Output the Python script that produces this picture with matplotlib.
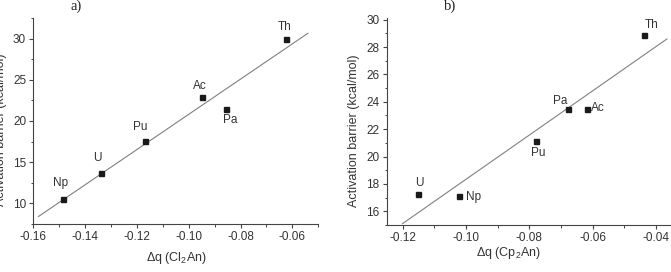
import numpy as np
import matplotlib
matplotlib.use('Agg')
import matplotlib.pyplot as plt
from matplotlib.ticker import MultipleLocator

plt.rcParams['font.family'] = ['Liberation Sans', 'DejaVu Sans']
plt.rcParams['mathtext.fontset'] = 'custom'
plt.rcParams['mathtext.rm'] = 'Liberation Sans'
plt.rcParams['mathtext.it'] = 'Liberation Sans:italic'

# panel a) Cl2An
elements_a = ['Np', 'U', 'Pu', 'Ac', 'Pa', 'Th']
dq_a = [-0.1486, -0.1337, -0.1167, -0.0947, -0.0856, -0.0626]
barrier_a = [10.48, 13.67, 17.55, 22.92, 21.4, 29.9]

# panel b) Cp2An
elements_b = ['U', 'Np', 'Pu', 'Pa', 'Ac', 'Th']
dq_b = [-0.115, -0.1021, -0.0779, -0.0679, -0.0617, -0.0436]
barrier_b = [17.29, 17.11, 21.16, 23.44, 23.44, 28.85]

# label offsets in pixels (dx right, dy down)
offs_a = {'Np': (-2, -16), 'U': (-4, -15), 'Pu': (-5, -14),
          'Ac': (-3, -11), 'Pa': (4, 11), 'Th': (-1, -12)}
offs_b = {'U': (1, -11), 'Np': (14, 1), 'Pu': (2, 12),
          'Pa': (-7, -8), 'Ac': (11, -1), 'Th': (7, -10)}

W, H = 671, 272
fig = plt.figure(figsize=(W / 100, H / 100), dpi=100)

dark = '#333333'


def panel(rect, x, y, names, offs, xlim, ylim, xmaj, ymaj, fit_range,
          xlabel, xlab_pos, ylab_x, tag, tag_pos):
    ax = fig.add_axes(rect)
    ax.set_xlim(*xlim)
    ax.set_ylim(*ylim)
    for s in ['top', 'right']:
        ax.spines[s].set_visible(False)
    for s in ['left', 'bottom']:
        ax.spines[s].set_color('#444444')
        ax.spines[s].set_linewidth(0.8)
    ax.xaxis.set_major_locator(MultipleLocator(xmaj))
    ax.xaxis.set_minor_locator(MultipleLocator(xmaj / 2))
    ax.yaxis.set_major_locator(MultipleLocator(ymaj))
    ax.yaxis.set_minor_locator(MultipleLocator(ymaj / 2))
    ax.tick_params(which='major', direction='out', length=3.2, width=0.8,
                   color='#444444', labelsize=8.5, labelcolor=dark, pad=2)
    ax.tick_params(which='minor', direction='out', length=1.8, width=0.7,
                   color='#444444')
    ax.xaxis.set_major_formatter(matplotlib.ticker.FuncFormatter(
        lambda v, p: f'{v:.2f}'.replace('\u2212', '-')))
    ax.yaxis.set_major_formatter(matplotlib.ticker.FuncFormatter(
        lambda v, p: f'{v:.0f}'))

    # linear fit
    k, b = np.polyfit(x, y, 1)
    xf = np.array(fit_range)
    ax.plot(xf, k * xf + b, color='#808080', lw=0.8, zorder=2)

    ax.plot(x, y, ls='none', marker='s', ms=3.6, color='#1a1a1a', zorder=3)
    for n, xi, yi in zip(names, x, y):
        dx, dy = offs[n]
        ax.annotate(n, (xi, yi), xytext=(dx * 0.72, -dy * 0.72),
                    textcoords='offset points', ha='center', va='center',
                    fontsize=8.5, color=dark)

    ax.set_ylabel('Activation barrier (kcal/mol)', fontsize=9, color=dark)
    ax.yaxis.set_label_coords(ylab_x, 0.456)
    ax.set_xlabel(xlabel, fontsize=9, color=dark)
    ax.xaxis.set_label_coords(*xlab_pos)
    ax.xaxis.label.set_va('center')

    fig.text(tag_pos[0] / W, 1 - tag_pos[1] / H, tag, ha='center', va='center',
             fontsize=10.5, family='Liberation Serif', color='#222222')
    return ax


panel([33.3 / W, 1 - 224 / H, 285 / W, 206 / H], dq_a, barrier_a, elements_a,
      offs_a, (-0.16, -0.05), (7.5, 32.5), 0.02, 5, (-0.158, -0.054),
      r'$\Delta$q (Cl$_2$An)', (0.503, -0.165), -0.092, 'a)', (76, 6))

panel([386.7 / W, 1 - 225 / H, 285 / W, 206.7 / H], dq_b, barrier_b, elements_b,
      offs_b, (-0.125, -0.035), (15, 30.1), 0.02, 2, (-0.12, -0.0365),
      r'$\Delta$q (Cp$_2$An)', (0.426, -0.135), -0.094, 'b)', (450, 6.5))

fig.savefig('out.png', dpi=100)
plt.close()
